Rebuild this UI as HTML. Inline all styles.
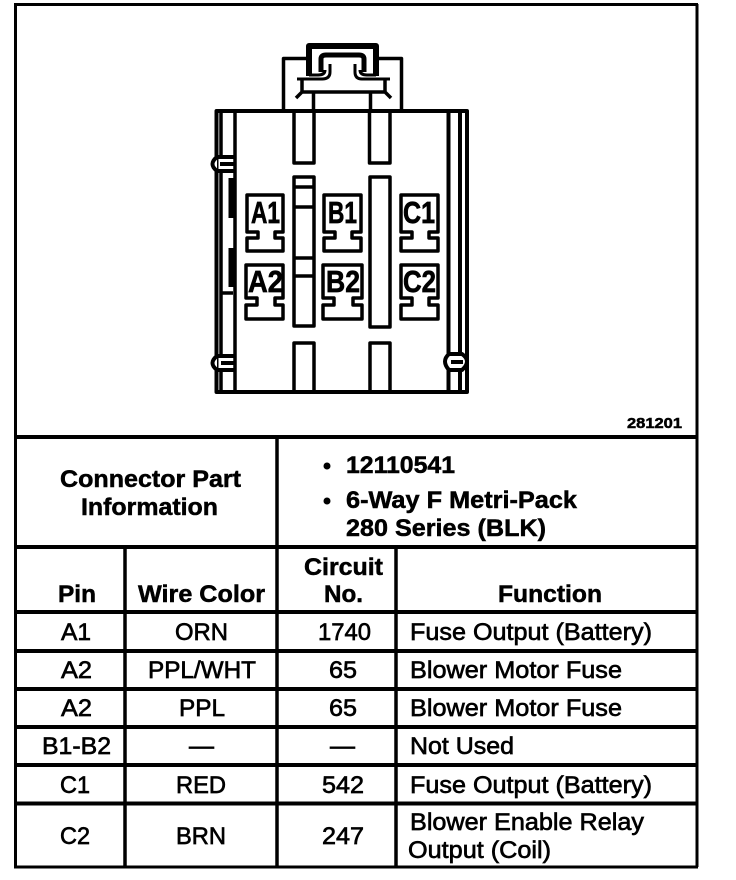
<!DOCTYPE html>
<html><head><meta charset="utf-8"><style>
html,body{margin:0;padding:0;background:#fff}
svg{display:block}
text{font-family:"Liberation Sans",sans-serif;fill:#000;stroke:#000;stroke-width:.6}
.b{font-weight:bold;font-size:24px;stroke-width:.5}
.r{font-size:24px;stroke-width:.65}
.l{fill:none;stroke:#000;stroke-width:3.5;stroke-linejoin:round}
.t{fill:none;stroke:#000;stroke-width:3}
.p{font-weight:bold;font-size:31px;stroke-width:.7}
</style></head><body>
<svg width="736" height="880" viewBox="0 0 736 880" xmlns="http://www.w3.org/2000/svg">
<rect width="736" height="880" fill="#fff"/>
<!-- frame and table -->
<g class="t">
<path d="M15.5 4V867M697 4V867M14 4.5H698M14 867H698" stroke-width="3"/>
<path d="M14 437H698M14 547H698M14 612H698M14 651H698M14 689H698M14 727H698M14 765H698M14 803.500H698" stroke-width="4"/>
<path d="M277 437V867M125 547V867M396 547V867" stroke-width="3.500"/>
</g>
<!-- connector -->
<g class="l">
<path d="M216.500 392V111H467V392Z" stroke-width="4"/>
<path d="M283.500 110V58.500H307M379 58.500H401.500V110"/>
<path d="M309 76V46H376V76" stroke-width="6"/>
<path d="M309 75H318Q325 75 325 70M376 75H367Q360 75 360 70" stroke-width="3"/>
<path d="M321 72V59Q321 55 326 55H359Q364 55 364 59V72" stroke-width="5"/>
<path d="M297 79H322Q330 79 330 72V64M390 79H362Q355 79 355 72V64" stroke-width="3"/>
<path d="M302 80V92H385V80M302 92L296 98M385 92L391 98"/>
<path d="M313.500 92V110M370.500 92V110"/>
<!-- side rails -->
<path d="M221 111V155M235 111V392M221 172V293M221 293H233M221 293V355M221 372V392" stroke-width="3.500"/>
<path d="M231 178V218M231 248V287" stroke-width="5"/>
<path d="M448.500 111V392M460 111V392" stroke-width="4"/>
<!-- clips -->
<path d="M217 157H234M217 171H234M217 157Q208 164 217 171M220 164H234" fill="#fff" stroke-width="4"/>
<path d="M217 356H235M217 370H235M217 356Q208 363 217 370M221 363H235" fill="#fff" stroke-width="4"/>
<path d="M449 354H462Q472 361 462 370H449Q441 361 449 354ZM451 362H463" fill="#fff" stroke-width="4"/>
<!-- slots -->
<path d="M294 111V163H314V111M369.500 111V163H390V111"/>
<path d="M294 177H314V326H294ZM294 187H314M294 207H314M294 258H314M294 276H314"/>
<path d="M370 177H390V327H370Z"/>
<path d="M294 392V343H314V392M370 392V343H390V392"/>
<!-- pins -->
<path d="M247 195H283V232H275V238H283V251H247V238H258V232H247Z"/>
<path d="M324 195H361V232H352V238H361V251H324V238H335V232H324Z"/>
<path d="M401 195H438V232H429V238H438V251H401V238H412V232H401Z"/>
<path d="M246 265H283V298H275V305H283V319H246V305H257V298H246Z"/>
<path d="M323 265H362V298H353V305H362V319H323V305H334V298H323Z"/>
<path d="M401 265H438V298H429V305H438V319H401V305H412V298H401Z"/>
</g>
<g>
<text class="p" x="251" y="223" textLength="29" lengthAdjust="spacingAndGlyphs">A1</text>
<text class="p" x="328" y="223" textLength="29" lengthAdjust="spacingAndGlyphs">B1</text>
<text class="p" x="403" y="223" textLength="32" lengthAdjust="spacingAndGlyphs">C1</text>
<text class="p" x="248" y="292" textLength="35" lengthAdjust="spacingAndGlyphs">A2</text>
<text class="p" x="326" y="292" textLength="34" lengthAdjust="spacingAndGlyphs">B2</text>
<text class="p" x="403" y="292" textLength="33" lengthAdjust="spacingAndGlyphs">C2</text>
</g>
<!-- labels -->
<g>
<text class="b" style="font-size:15px" x="627" y="428" textLength="55" lengthAdjust="spacingAndGlyphs">281201</text>
<text class="b" x="60" y="487" textLength="181" lengthAdjust="spacingAndGlyphs">Connector Part</text>
<text class="b" x="81" y="515" textLength="137" lengthAdjust="spacingAndGlyphs">Information</text>
<circle cx="327" cy="466" r="3.500"/>
<circle cx="327" cy="501" r="3.500"/>
<text class="b" x="346" y="473" textLength="109" lengthAdjust="spacingAndGlyphs">12110541</text>
<text class="b" x="346" y="508" textLength="231" lengthAdjust="spacingAndGlyphs">6-Way F Metri-Pack</text>
<text class="b" x="346" y="536" textLength="200" lengthAdjust="spacingAndGlyphs">280 Series (BLK)</text>
<text class="b" x="304" y="575" textLength="79" lengthAdjust="spacingAndGlyphs">Circuit</text>
<text class="b" x="324" y="602" textLength="39" lengthAdjust="spacingAndGlyphs">No.</text>
<text class="b" x="58" y="602" textLength="38" lengthAdjust="spacingAndGlyphs">Pin</text>
<text class="b" x="138" y="602" textLength="127" lengthAdjust="spacingAndGlyphs">Wire Color</text>
<text class="b" x="498" y="602" textLength="104" lengthAdjust="spacingAndGlyphs">Function</text>

<text class="r" x="61" y="640" textLength="30" lengthAdjust="spacingAndGlyphs">A1</text>
<text class="r" x="175" y="640" textLength="53" lengthAdjust="spacingAndGlyphs">ORN</text>
<text class="r" x="318" y="640" textLength="53" lengthAdjust="spacingAndGlyphs">1740</text>
<text class="r" x="410" y="640" textLength="242" lengthAdjust="spacingAndGlyphs">Fuse Output (Battery)</text>

<text class="r" x="61" y="678" textLength="31" lengthAdjust="spacingAndGlyphs">A2</text>
<text class="r" x="148" y="678" textLength="108" lengthAdjust="spacingAndGlyphs">PPL/WHT</text>
<text class="r" x="329" y="678" textLength="28" lengthAdjust="spacingAndGlyphs">65</text>
<text class="r" x="410" y="678" textLength="212" lengthAdjust="spacingAndGlyphs">Blower Motor Fuse</text>

<text class="r" x="61" y="716" textLength="31" lengthAdjust="spacingAndGlyphs">A2</text>
<text class="r" x="179" y="716" textLength="46" lengthAdjust="spacingAndGlyphs">PPL</text>
<text class="r" x="329" y="716" textLength="28" lengthAdjust="spacingAndGlyphs">65</text>
<text class="r" x="410" y="716" textLength="212" lengthAdjust="spacingAndGlyphs">Blower Motor Fuse</text>

<text class="r" x="42" y="754" textLength="69" lengthAdjust="spacingAndGlyphs">B1-B2</text>
<text class="r" x="189" y="754" textLength="25" lengthAdjust="spacingAndGlyphs">—</text>
<text class="r" x="330" y="754" textLength="25" lengthAdjust="spacingAndGlyphs">—</text>
<text class="r" x="410" y="754" textLength="104" lengthAdjust="spacingAndGlyphs">Not Used</text>

<text class="r" x="60" y="793" textLength="30" lengthAdjust="spacingAndGlyphs">C1</text>
<text class="r" x="176" y="793" textLength="50" lengthAdjust="spacingAndGlyphs">RED</text>
<text class="r" x="322" y="793" textLength="42" lengthAdjust="spacingAndGlyphs">542</text>
<text class="r" x="410" y="793" textLength="242" lengthAdjust="spacingAndGlyphs">Fuse Output (Battery)</text>

<text class="r" x="60" y="844" textLength="30" lengthAdjust="spacingAndGlyphs">C2</text>
<text class="r" x="176" y="844" textLength="50" lengthAdjust="spacingAndGlyphs">BRN</text>
<text class="r" x="322" y="844" textLength="42" lengthAdjust="spacingAndGlyphs">247</text>
<text class="r" x="410" y="830" textLength="234" lengthAdjust="spacingAndGlyphs">Blower Enable Relay</text>
<text class="r" x="408" y="858" textLength="143" lengthAdjust="spacingAndGlyphs">Output (Coil)</text>
</g>
</svg>
</body></html>
